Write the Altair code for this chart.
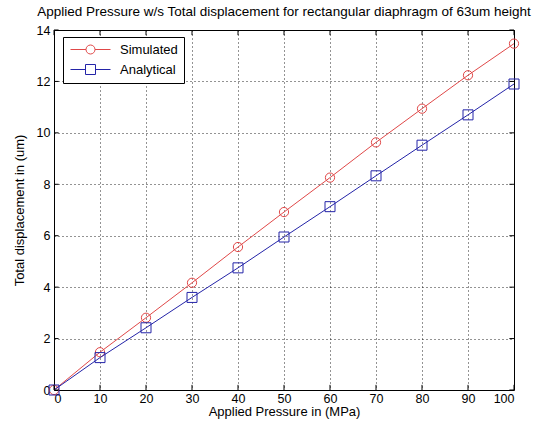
import altair as alt
import pandas as pd

# Measured series
pressure = [0, 10, 20, 30, 40, 50, 60, 70, 80, 90, 100]
simulated = [0, 1.47, 2.81, 4.17, 5.56, 6.92, 8.26, 9.63, 10.94, 12.24, 13.47]
analytical = [0, 1.26, 2.42, 3.60, 4.75, 5.95, 7.13, 8.33, 9.52, 10.70, 11.90]

series_names = ["Simulated", "Analytical"]
series_colors = ["#e04848", "#2424a8"]
x_ticks = [0, 10, 20, 30, 40, 50, 60, 70, 80, 90, 100]
y_ticks = [0, 2, 4, 6, 8, 10, 12, 14]

FONT = "Liberation Sans"

df = pd.DataFrame({
    "pressure": pressure * 2,
    "disp": simulated + analytical,
    "series": [series_names[0]] * len(pressure) + [series_names[1]] * len(pressure),
})

x_scale = alt.Scale(domain=[0, 100], nice=False, zero=False)
y_scale = alt.Scale(domain=[0, 14], nice=False, zero=False)

x_axis = alt.Axis(values=x_ticks, title="Applied Pressure in (MPa)", ticks=False,
                  domain=False, labelPadding=2, titlePadding=1,
                  grid=True, gridColor="black", gridDash=[1, 3], gridOpacity=0.85)
y_axis = alt.Axis(values=y_ticks, title="Total displacement in (um)", ticks=False,
                  domain=False, labelPadding=4, titlePadding=10,
                  grid=True, gridColor="black", gridDash=[1, 3], gridOpacity=0.85)

X = alt.X("pressure:Q", scale=x_scale, axis=x_axis)
Y = alt.Y("disp:Q", scale=y_scale, axis=y_axis)

# Legend symbols: a 40px line stub with the marker in its middle.  The symbol
# box is kept small (10px) so rows stay tight; the path reaches past it.
circle_path = ("M-1,0H2.1 M3.9,0H7 "
               "M3.9,0A0.9,0.9 0 1,1 2.1,0A0.9,0.9 0 1,1 3.9,0")
square_path = "M-1,0H2 M4,0H7 M2,-1H4V1H2Z"

legend = alt.Legend(title=None, orient="none", legendX=9, legendY=7,
                    strokeColor="black", fillColor="white", padding=6,
                    symbolSize=100, symbolStrokeWidth=1, symbolOpacity=1,
                    labelFont=FONT, labelFontSize=13, labelColor="black",
                    labelOffset=38, rowPadding=5, cornerRadius=0)

legend_layer = alt.Chart(df).transform_filter("false").mark_point(filled=False).encode(
    x=alt.X("pressure:Q", scale=x_scale),
    y=alt.Y("disp:Q", scale=y_scale),
    color=alt.Color("series:N", scale=alt.Scale(domain=series_names, range=series_colors),
                    legend=legend),
    shape=alt.Shape("series:N", scale=alt.Scale(domain=series_names,
                                                range=[circle_path, square_path]),
                    legend=legend),
)

layers = []
for name, color, shape, size in zip(series_names, series_colors,
                                    ["circle", "square"], [85, 100]):
    base = alt.Chart(df).transform_filter(alt.datum.series == name)
    layers.append(base.mark_line(color=color, strokeWidth=1).encode(x=X, y=Y))
    layers.append(base.mark_point(shape=shape, filled=False, color=color,
                                  size=size, strokeWidth=1, opacity=1).encode(x=X, y=Y))

# Inward tick marks on all four sides of the box
xt = pd.DataFrame({"t": x_ticks})
yt = pd.DataFrame({"t": y_ticks})
tick_bottom = alt.Chart(xt).mark_rule(color="black").encode(
    x=alt.X("t:Q", scale=x_scale), y=alt.datum(0, scale=y_scale), y2=alt.datum(0.2))
tick_top = alt.Chart(xt).mark_rule(color="black").encode(
    x=alt.X("t:Q", scale=x_scale), y=alt.datum(13.8, scale=y_scale), y2=alt.datum(14))
tick_left = alt.Chart(yt).mark_rule(color="black").encode(
    y=alt.Y("t:Q", scale=y_scale), x=alt.datum(0, scale=x_scale), x2=alt.datum(1))
tick_right = alt.Chart(yt).mark_rule(color="black").encode(
    y=alt.Y("t:Q", scale=y_scale), x=alt.datum(99, scale=x_scale), x2=alt.datum(100))

chart = alt.layer(
    *layers, tick_bottom, tick_top, tick_left, tick_right, legend_layer
).properties(
    width=460,
    height=360,
    title=alt.Title("Applied Pressure w/s Total displacement for rectangular diaphragm of 63um height",
                    font=FONT, fontSize=13.5, fontWeight="normal", color="black",
                    anchor="middle", offset=6),
    autosize=alt.AutoSizeParams(type="none"),
    padding={"left": 54, "top": 30, "right": 22, "bottom": 42},
    background="white",
).configure_view(
    stroke="black", strokeWidth=1
).configure_axis(
    labelFont=FONT, labelFontSize=12.5, labelColor="black",
    titleFont=FONT, titleFontSize=13, titleColor="black", titleFontWeight="normal",
)

chart.save("out.html", embed_options={"renderer": "svg", "actions": False})
